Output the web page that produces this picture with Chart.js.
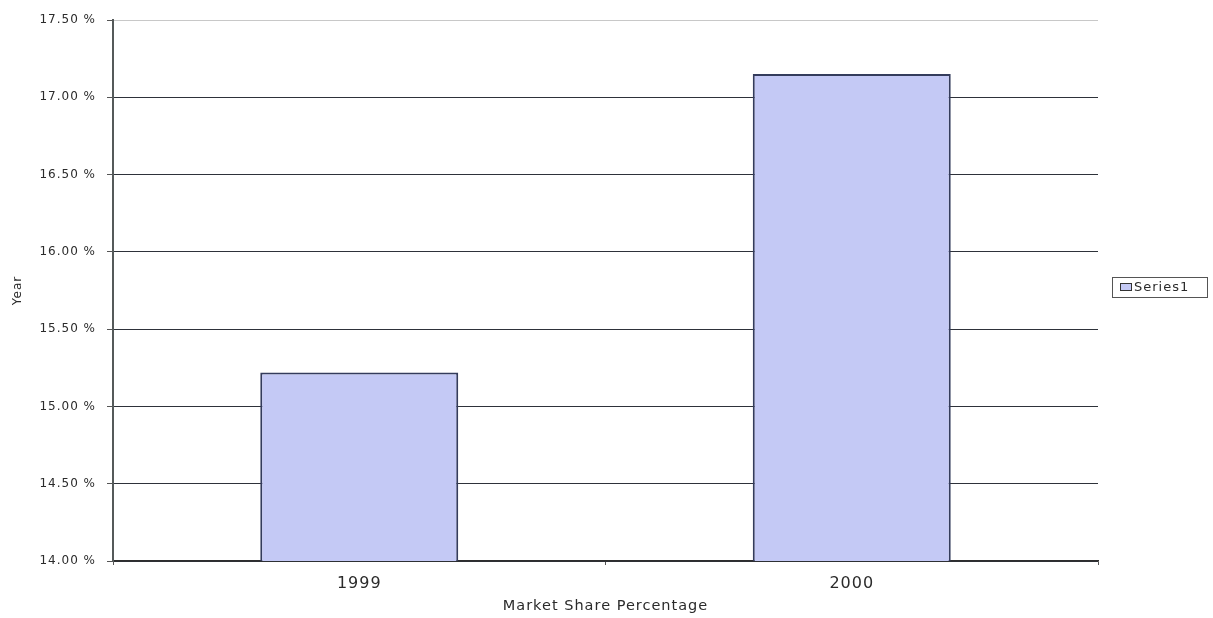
<!DOCTYPE html>
<html>
<head>
<meta charset="utf-8">
<script src="https://cdn.jsdelivr.net/npm/chart.js@4/dist/chart.umd.min.js"></script>
<style>
  html, body { margin: 0; padding: 0; background: #ffffff; }
  #wrap { width: 1213px; height: 618px; position: relative; }
</style>
</head>
<body>
<div id="wrap"><canvas id="chart" width="1213" height="618"></canvas></div>
<script>
// Market share by year
const years = ['1999', '2000'];
const seriesName = 'Series1';
const shareValues = [15.22, 17.15];
const yMin = 14.0;
const yMax = 17.5;
const yStep = 0.5;

const FONT = '"DejaVu Sans", Verdana, sans-serif';
const TEXT = '#2b2b2b';

// wide letter spacing for every label on the canvas
const spacingPlugin = {
  id: 'spacing',
  beforeUpdate(chart) { chart.ctx.letterSpacing = '1px'; },
  beforeDraw(chart) { chart.ctx.letterSpacing = '1px'; }
};

// boxed legend to the right of the plot
const boxedLegend = {
  id: 'boxedLegend',
  afterDraw(chart) {
    const ctx = chart.ctx;
    const ds = chart.data.datasets[0];
    const x = 1112, y = 277, w = 95, h = 20;
    ctx.save();
    ctx.letterSpacing = '1px';
    ctx.fillStyle = '#ffffff';
    ctx.fillRect(x, y, w, h);
    ctx.strokeStyle = '#555555';
    ctx.lineWidth = 1;
    ctx.strokeRect(x + 0.5, y + 0.5, w, h);
    ctx.fillStyle = ds.backgroundColor;
    ctx.fillRect(x + 8, y + 6, 11, 7);
    ctx.strokeStyle = '#333333';
    ctx.strokeRect(x + 8.5, y + 6.5, 11, 7);
    ctx.fillStyle = TEXT;
    ctx.font = '13px ' + FONT;
    ctx.textBaseline = 'middle';
    ctx.textAlign = 'left';
    ctx.fillText(ds.label, x + 22, y + 11);
    ctx.restore();
  }
};

new Chart(document.getElementById('chart'), {
  type: 'bar',
  data: {
    labels: years,
    datasets: [{
      label: seriesName,
      data: shareValues,
      backgroundColor: '#c4c9f5',
      borderColor: '#343c5c',
      borderWidth: 2,
      borderSkipped: 'start',
      barPercentage: 0.402,
      categoryPercentage: 1.0
    }]
  },
  options: {
    responsive: false,
    animation: false,
    devicePixelRatio: 1,
    layout: { padding: { top: 20, right: 115, bottom: 0, left: 0 } },
    plugins: {
      legend: { display: false },
      tooltip: { enabled: false }
    },
    scales: {
      x: {
        grid: {
          display: true,
          drawOnChartArea: false,
          drawTicks: true,
          tickLength: 4,
          color: '#555555',
          offset: true
        },
        border: { display: true, color: '#2e2e2e', width: 1.5 },
        ticks: {
          color: TEXT,
          padding: 9,
          font: { family: FONT, size: 16 }
        },
        title: {
          display: true,
          text: 'Market Share Percentage',
          color: TEXT,
          font: { family: FONT, size: 14.5 },
          padding: { top: 4, bottom: 3 }
        },
        afterFit(scale) { scale.height = 57; }
      },
      y: {
        min: yMin,
        max: yMax,
        grid: {
          color: ctx => (ctx.tick && ctx.tick.value === yMax) ? '#c8c8c8' : '#2e323a',
          tickColor: '#555555',
          lineWidth: 1,
          tickLength: 6
        },
        border: { display: true, color: '#555a5a', width: 2 },
        ticks: {
          stepSize: yStep,
          color: TEXT,
          padding: 11,
          font: { family: FONT, size: 12 },
          callback: v => Number(v).toFixed(2) + ' %'
        },
        title: {
          display: true,
          text: 'Year',
          color: TEXT,
          font: { family: FONT, size: 12 },
          padding: { top: 11, bottom: 4 }
        },
        afterFit(scale) { scale.width = 113; }
      }
    }
  },
  plugins: [spacingPlugin, boxedLegend]
});
</script>
</body>
</html>
